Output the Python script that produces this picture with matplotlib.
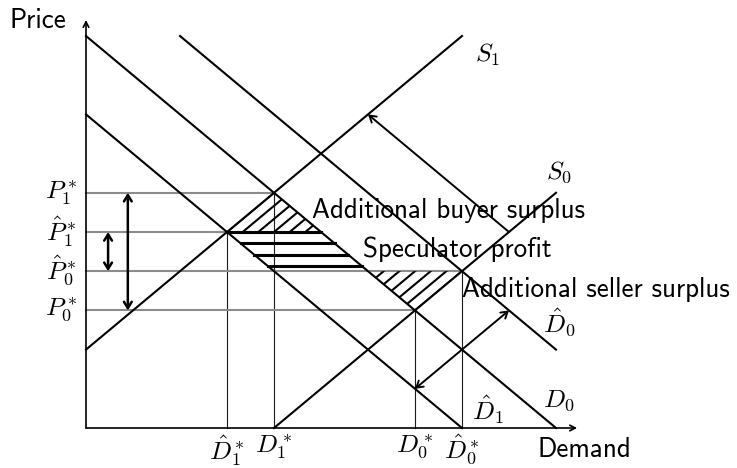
import numpy as np
import matplotlib.pyplot as plt
from matplotlib.patches import Polygon

plt.rcParams['mathtext.fontset'] = 'cm'
sans = 'cmss10'

# demand curves: p = a - q ; supply curves: p = q + b
dem_labels = [r'$D_0$', r'$\hat{D}_0$', r'$\hat{D}_1$']
dem_a = [10, 12, 8]
dem_q = [(0, 10), (2, 10), (0, 8)]
sup_labels = [r'$S_0$', r'$S_1$']
sup_b = [-4, 2]
sup_q = [(4, 10), (0, 8)]

# equilibrium prices / quantities
price_labels = [r'$P_1^*$', r'$\hat{P}_1^*$', r'$\hat{P}_0^*$', r'$P_0^*$']
price_vals = [6, 5, 4, 3]
qty_labels = [r'$D_1^*$', r'$\hat{D}_1^*$', r'$\hat{D}_0^*$', r'$D_0^*$']
qty_vals = [4, 3, 8, 7]

region_labels = ['Additional buyer surplus', 'Speculator profit', 'Additional seller surplus']

x_max, y_max = 10.45, 10.41
diag_step = 1/3
horiz_step = 0.29
fs_sans = 19.5
fs_math = 18.5

fig = plt.figure(figsize=(7.37, 4.68), dpi=100)
ax = fig.add_axes([0, 0, 1, 1])
ax.set_xlim(-86/47, (737-86)/47)
ax.set_ylim(-40/39.2, 428/39.2)
ax.axis('off')

def on_dem(i, p):
    return (dem_a[i] - p, p)

D0, Dh0, Dh1 = 0, 1, 2
p1, ph1, ph0, p0 = price_vals
q1, qh1, qh0, q0 = qty_vals

# helper lines
for p, q in zip(price_vals, qty_vals):
    ax.plot([0, q], [p, p], color='0.55', lw=1.5, zorder=1)
    ax.plot([q, q], [0, p], color='0.1', lw=0.8, zorder=1)

# hatched regions
buyer = [(qh1, ph1), (q1, p1), on_dem(D0, ph1)]
spec = [on_dem(Dh1, ph1), on_dem(D0, ph1), on_dem(D0, ph0), on_dem(Dh1, ph0)]
seller = [on_dem(D0, ph0), (qh0, ph0), (q0, p0)]

for poly in [buyer, seller]:
    patch = Polygon(poly, closed=True, fill=False, lw=0, transform=ax.transData)
    ax.add_patch(patch)
    for j in range(-40, 40):
        c = j * diag_step
        xs = np.array([-1, 12])
        ln, = ax.plot(xs, xs + c, color='black', lw=1.5, zorder=2)
        ln.set_clip_path(patch)

for k in range(4):
    p = ph1 - k * horiz_step
    ax.plot([dem_a[Dh1] - p, dem_a[D0] - p], [p, p], color='black', lw=2.2, zorder=2)

# demand and supply lines
for a, (qa, qb) in zip(dem_a, dem_q):
    ax.plot([qa, qb], [a - qa, a - qb], color='black', lw=1.5, zorder=3)
for b, (qa, qb) in zip(sup_b, sup_q):
    ax.plot([qa, qb], [qa + b, qb + b], color='black', lw=1.5, zorder=3)

# axes
axis_arrow = dict(arrowstyle='->,head_length=0.4,head_width=0.2', lw=1.2, color='black',
                  shrinkA=0, shrinkB=0)
ax.annotate('', xy=(0, y_max), xytext=(0, 0), arrowprops=axis_arrow, zorder=4)
ax.annotate('', xy=(x_max, 0), xytext=(0, 0), arrowprops=axis_arrow, zorder=4)
ax.text(-1.62, 10.2, 'Price', fontfamily=sans, fontsize=fs_sans, va='baseline', ha='left')
ax.text(9.6, -0.74, 'Demand', fontfamily=sans, fontsize=fs_sans, va='baseline', ha='left')

# price / quantity labels
for lab, p in zip(price_labels, price_vals):
    ax.text(-0.19, p, lab, fontsize=fs_math, ha='right', va='center')
for lab, q in zip(qty_labels, qty_vals):
    ax.text(q, -0.12, lab, fontsize=fs_math, ha='center', va='top')

# curve labels
ax.text(8.28, 9.85, sup_labels[1], fontsize=fs_math, ha='left', va='top')
ax.text(9.79, 6.2, sup_labels[0], fontsize=fs_math, ha='left', va='bottom')
ax.text(9.72, 3.09, dem_labels[1], fontsize=fs_math, ha='left', va='top')
ax.text(9.72, 1.05, dem_labels[0], fontsize=fs_math, ha='left', va='top')
ax.text(8.21, 0.89, dem_labels[2], fontsize=fs_math, ha='left', va='top')

# price change arrows
big = dict(arrowstyle='<->,head_length=0.45,head_width=0.28', lw=1.8, color='black',
           shrinkA=0, shrinkB=0)
ax.annotate('', xy=(0.89, p1), xytext=(0.89, p0), arrowprops=big)
ax.annotate('', xy=(0.47, ph1), xytext=(0.47, ph0), arrowprops=big)

# curve shift arrows
thin = dict(arrowstyle='->,head_length=0.45,head_width=0.28', lw=1.4, color='black',
            shrinkA=0, shrinkB=0)
# S0 -> S1 along demand direction, starting on S0 where p = 5
s_start = (ph1 - sup_b[0], ph1)
t = (s_start[0] + sup_b[1] - s_start[1]) / -2
ax.annotate('', xy=(s_start[0] + t, s_start[1] - t), xytext=s_start, arrowprops=thin)
# D0 -> D̂0 and D0 -> D̂1, starting on D0 at q = qh0
d_start = (qh0, dem_a[D0] - qh0)
for tgt in [Dh0, Dh1]:
    t = (dem_a[tgt] - d_start[0] - d_start[1]) / 2
    ax.annotate('', xy=(d_start[0] + t, d_start[1] + t), xytext=d_start, arrowprops=thin)

# region labels
ax.text(4.81, 5.36, region_labels[0], fontfamily=sans, fontsize=fs_sans, va='baseline', zorder=5)
ax.text(5.89, 4.36, region_labels[1], fontfamily=sans, fontsize=fs_sans, va='baseline', zorder=5)
ax.text(8.0, 3.34, region_labels[2], fontfamily=sans, fontsize=fs_sans, va='baseline', zorder=5)

fig.savefig('out.png', dpi=100)
